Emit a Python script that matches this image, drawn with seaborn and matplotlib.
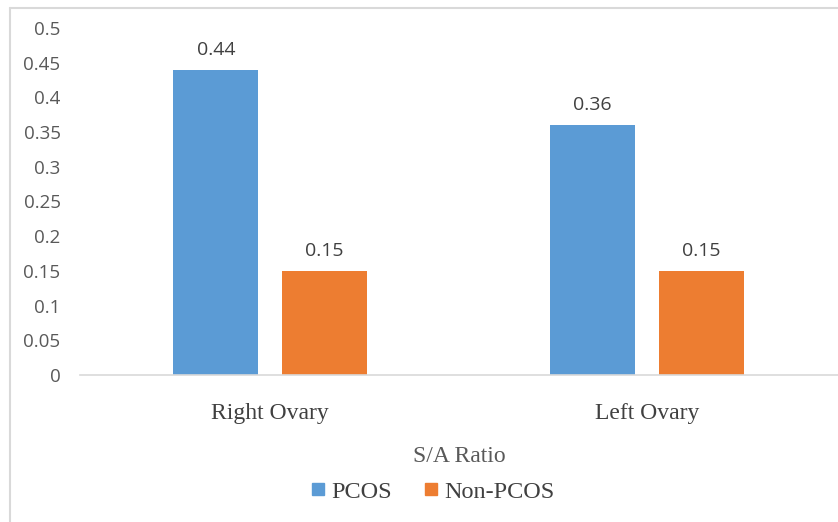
import matplotlib
matplotlib.use("Agg")
import matplotlib.pyplot as plt
import seaborn as sns
import pandas as pd
from matplotlib.lines import Line2D

ovaries = ["Right Ovary", "Left Ovary"]
groups = ["PCOS", "Non-PCOS"]
pcos_vals = [0.44, 0.36]
non_pcos_vals = [0.15, 0.15]
yticks = [0, 0.05, 0.1, 0.15, 0.2, 0.25, 0.3, 0.35, 0.4, 0.45, 0.5]

df = pd.DataFrame({
    "Ovary": ovaries * 2,
    "Group": [groups[0]] * 2 + [groups[1]] * 2,
    "Ratio": pcos_vals + non_pcos_vals,
})

sns.set_theme(style="white")
serif = ["Liberation Serif", "DejaVu Serif"]
sans = ["Open Sans", "Liberation Sans", "DejaVu Sans"]

fig = plt.figure(figsize=(8.38, 5.22), dpi=100)
ax = fig.add_axes([80 / 838, 1 - 375 / 522, 1 - 80 / 838, (375 - 28) / 522])

palette = {"PCOS": "#5B9BD5", "Non-PCOS": "#ED7D31"}
sns.barplot(data=df, x="Ovary", y="Ratio", hue="Group", order=ovaries,
            hue_order=groups, palette=palette, width=0.575, gap=0.217,
            saturation=1, linewidth=0, ax=ax, legend=False)

for cont in ax.containers:
    ax.bar_label(cont, labels=[f"{v:.2f}" for v in cont.datavalues], padding=8,
                 fontsize=14, color="#404040", family=sans)

ax.set_ylim(0, 0.5)
ax.set_xlim(-0.504, 1.507)
ax.set_yticks(yticks)
ax.set_yticklabels([f"{t:g}" for t in yticks], family=sans, fontsize=13.5, color="#595959")
ax.tick_params(axis="y", length=0, pad=14)
ax.tick_params(axis="x", length=0, pad=20)
for lab in ax.get_xticklabels():
    lab.set_family(serif)
    lab.set_fontsize(17)
    lab.set_color("#404040")
ax.set_ylabel("")
ax.set_xlabel("S/A Ratio", family=serif, fontsize=17, color="#595959", labelpad=16)

for side in ["top", "right", "left"]:
    ax.spines[side].set_visible(False)
ax.spines["bottom"].set_color("#D9D9D9")
ax.spines["bottom"].set_linewidth(1.2)
ax.grid(False)

handles = [Line2D([], [], marker="s", linestyle="", markersize=8.5,
                  color=palette[g]) for g in groups]
fig.legend(handles, groups, loc="center", bbox_to_anchor=(433 / 838, 1 - 492 / 522),
           ncol=2, frameon=False, prop={"family": serif, "size": 17.5},
           handlelength=0.6, handletextpad=0.25, columnspacing=1.3,
           labelcolor="#404040")

# outer chart frame (left and top edges visible)
fig.add_artist(Line2D([10 / 838, 10 / 838], [0, 1 - 8 / 522], transform=fig.transFigure,
                      color="#D9D9D9", lw=1.5))
fig.add_artist(Line2D([10 / 838, 1], [1 - 8 / 522, 1 - 8 / 522], transform=fig.transFigure,
                      color="#D9D9D9", lw=1.5))

fig.savefig("out.png", dpi=100)
plt.close(fig)
